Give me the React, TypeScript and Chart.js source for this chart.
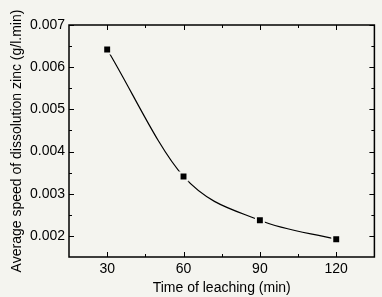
import React, { useEffect, useRef } from 'react';
import { Chart, registerables } from 'chart.js';

Chart.register(...registerables);

// ---- data ----
const leachingTime = [30, 60, 90, 120];
const dissolutionSpeed = [0.00642, 0.00341, 0.00237, 0.00192];
const xTickValues = [30, 60, 90, 120];
const yTickValues = [0.002, 0.003, 0.004, 0.005, 0.006, 0.007];
const xRange = [15, 135];
const yRange = [0.0015, 0.007];
const xTitle = 'Time of leaching (min)';
const yTitle = 'Average speed of dissolution zinc (g/l.min)';

const BG = '#f4f4ef';
const FONT = "'Liberation Sans', Arial, sans-serif";

export default function App() {
  const ref = useRef<HTMLCanvasElement>(null);

  useEffect(() => {
    if (!ref.current) return;

    const framePlugin = {
      id: 'originFrame',
      beforeDraw(chart: any) {
        const ctx = chart.ctx;
        ctx.save();
        ctx.fillStyle = BG;
        ctx.fillRect(0, 0, chart.width, chart.height);
        ctx.restore();
      },
      afterDatasetsDraw(chart: any) {
        const ctx = chart.ctx;
        const { left, right, top, bottom } = chart.chartArea;
        const xs = chart.scales.x;
        const ys = chart.scales.y;
        ctx.save();
        ctx.strokeStyle = '#000';
        // ticks
        ctx.lineWidth = 1;
        const major = 5;
        const minor = 3;
        const xStep = xTickValues[1] - xTickValues[0];
        const yStep = yTickValues[1] - yTickValues[0];
        const xMinor: number[] = [];
        for (let v = xTickValues[0] - xStep / 2; v <= xRange[1]; v += xStep) {
          if (v > xRange[0] && v < xRange[1]) xMinor.push(v);
        }
        const yMinor: number[] = [];
        for (let v = yTickValues[0] - yStep / 2; v <= yRange[1] + 1e-9; v += yStep) {
          if (v > yRange[0] + 1e-9 && v < yRange[1] - 1e-9) yMinor.push(v);
        }
        ctx.beginPath();
        const xt = (v: number, len: number) => {
          const px = Math.round(xs.getPixelForValue(v)) + 0.5;
          ctx.moveTo(px, bottom);
          ctx.lineTo(px, bottom - len);
          ctx.moveTo(px, top);
          ctx.lineTo(px, top + len);
        };
        const yt = (v: number, len: number) => {
          const py = Math.round(ys.getPixelForValue(v)) + 0.5;
          ctx.moveTo(left, py);
          ctx.lineTo(left + len, py);
          ctx.moveTo(right, py);
          ctx.lineTo(right - len, py);
        };
        xTickValues.forEach((v) => xt(v, major));
        xMinor.forEach((v) => xt(v, minor));
        yTickValues.forEach((v) => yt(v, major));
        yMinor.forEach((v) => yt(v, minor));
        ctx.stroke();
        // frame
        ctx.lineWidth = 1.5;
        ctx.strokeRect(left, top, right - left, bottom - top);
        ctx.restore();
      },
    };

    const chart = new Chart(ref.current, {
      type: 'line',
      data: {
        datasets: [
          {
            data: leachingTime.map((t, i) => ({ x: t, y: dissolutionSpeed[i] })),
            borderColor: '#000',
            borderWidth: 1.2,
            cubicInterpolationMode: 'monotone',
            pointStyle: 'rect',
            pointRadius: 5.6,
            pointBackgroundColor: '#000',
            pointBorderColor: BG,
            pointBorderWidth: 2,
            fill: false,
          },
        ],
      },
      options: {
        responsive: false,
        animation: false,
        devicePixelRatio: 1,
        layout: { padding: { top: 25, right: 1, left: 0, bottom: 0 } },
        plugins: {
          legend: { display: false },
          tooltip: { enabled: false },
        },
        events: [],
        scales: {
          x: {
            type: 'linear',
            min: xRange[0],
            max: xRange[1],
            afterBuildTicks: (s: any) => {
              s.ticks = xTickValues.map((v) => ({ value: v }));
            },
            afterFit: (s: any) => {
              s.height = 40;
            },
            grid: { display: false, drawOnChartArea: false, drawTicks: false },
            border: { display: false },
            ticks: {
              color: '#000',
              font: { family: FONT, size: 14 },
              padding: 4,
              maxRotation: 0,
              autoSkip: false,
              callback: (v: any) => String(v),
            },
            title: {
              display: true,
              text: xTitle,
              color: '#000',
              font: { family: FONT, size: 14 },
              padding: { top: 0, bottom: 0 },
            },
          },
          y: {
            type: 'linear',
            min: yRange[0],
            max: yRange[1],
            afterBuildTicks: (s: any) => {
              s.ticks = yTickValues.map((v) => ({ value: v }));
            },
            afterFit: (s: any) => {
              s.width = 69;
            },
            grid: { display: false, drawOnChartArea: false, drawTicks: false },
            border: { display: false },
            ticks: {
              color: '#000',
              font: { family: FONT, size: 14 },
              padding: 4,
              autoSkip: false,
              callback: (v: any) => Number(v).toFixed(3),
            },
            title: {
              display: true,
              text: yTitle,
              color: '#000',
              font: { family: FONT, size: 14 },
              padding: { top: 9, bottom: 0 },
            },
          },
        },
      },
      plugins: [framePlugin],
    } as any);

    return () => chart.destroy();
  }, []);

  return (
    <div style={{ position: 'fixed', left: 0, top: 0, width: 382, height: 297, background: BG }}>
      <canvas ref={ref} width={382} height={297} style={{ display: 'block', width: 382, height: 297 }} />
    </div>
  );
}
